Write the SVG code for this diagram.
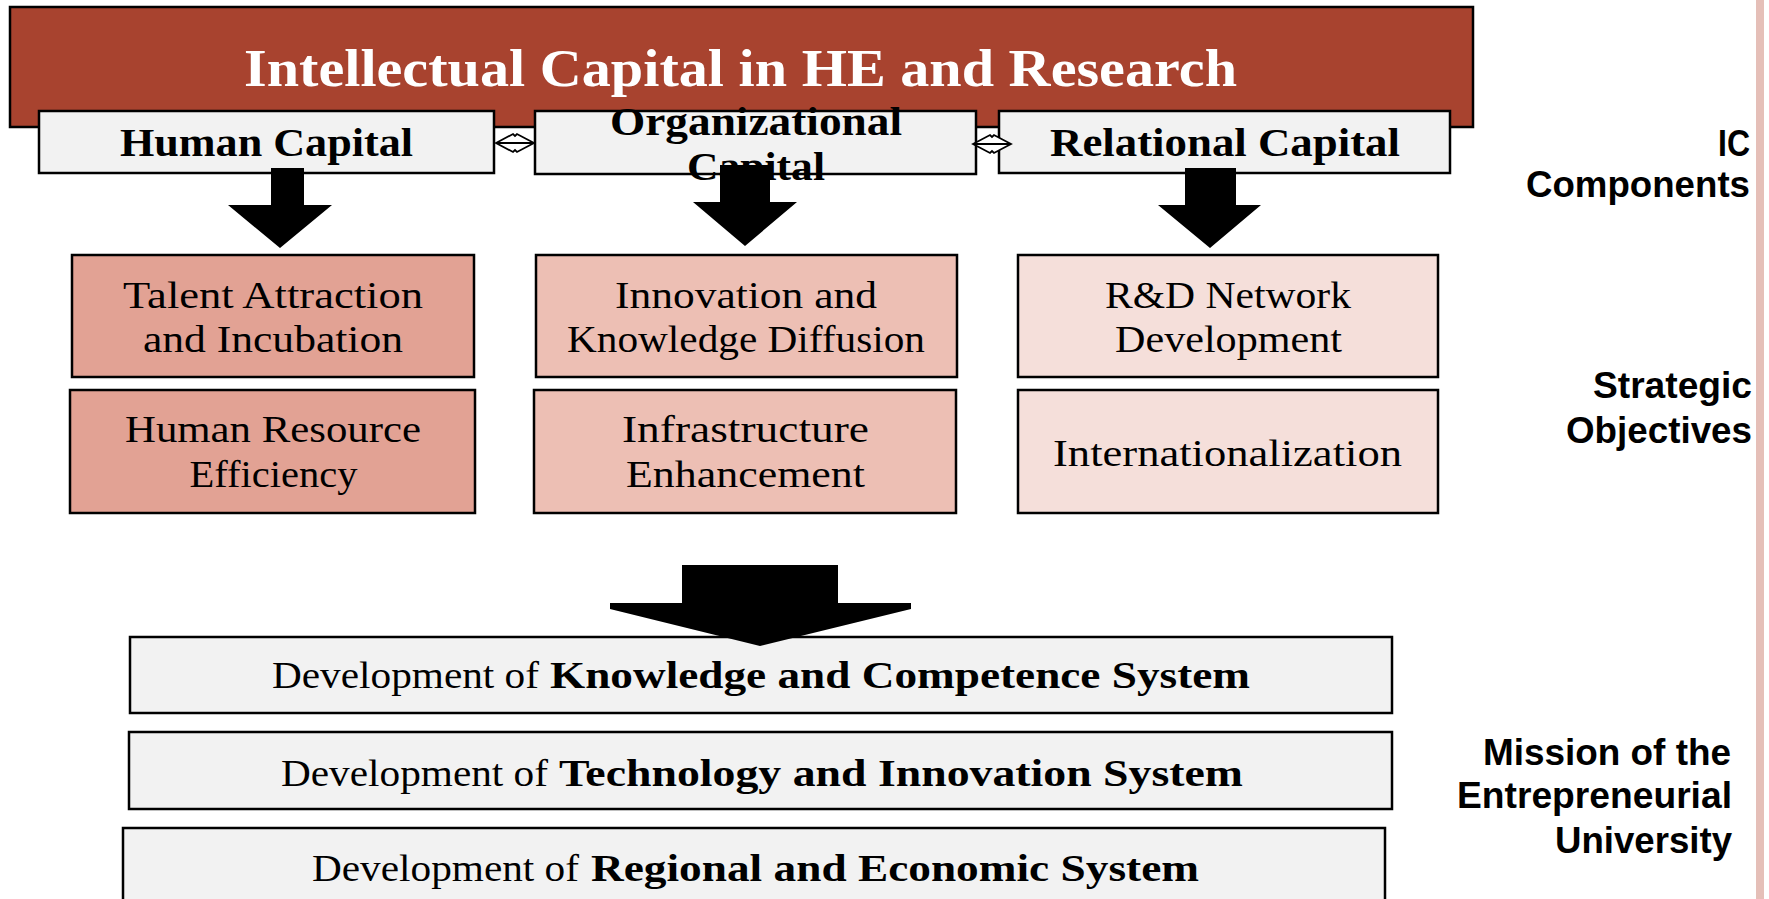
<svg xmlns="http://www.w3.org/2000/svg" width="1769" height="899" viewBox="0 0 1769 899">
  <style>
    .box { stroke: #000; stroke-width: 2.5; }
    .title-box { fill: #A8432F; }
    .cap-box { fill: #F2F2F2; }
    .obj-1 { fill: #E2A294; }
    .obj-2 { fill: #EDBFB4; }
    .obj-3 { fill: #F5DFDA; }
    .mission-box { fill: #F2F2F2; }
    .serif { font-family: "Liberation Serif", "Times New Roman", serif; fill: #000; }
    .title { font-family: "Liberation Serif", "Times New Roman", serif; font-weight: bold; font-size: 53px; fill: #fff; }
    .cap-label { font-weight: bold; font-size: 40px; }
    .obj-label { font-size: 38px; }
    .mission-label { font-size: 37px; }
    .side { font-family: "Liberation Sans", Arial, sans-serif; font-weight: bold; font-size: 37px; fill: #000; }
    .block-arrow { fill: #000; }
    .link-arrow { fill: #fff; stroke: #000; stroke-width: 1.8; stroke-linejoin: miter; }
    .link-line { fill: none; stroke: #000; stroke-width: 1.8; }
  </style>

  <!-- right margin stripe -->
  <rect x="1756" y="0" width="8" height="899" fill="#E5BFB8"/>

  <!-- header -->
  <g id="header">
    <rect class="box title-box" x="10" y="7" width="1463" height="120"/>
    <text class="title" x="244" y="86" textLength="993" lengthAdjust="spacingAndGlyphs">Intellectual Capital in HE and Research</text>
  </g>

  <!-- IC components -->
  <g id="human-capital">
    <rect class="box cap-box" x="39" y="111" width="455" height="62"/>
    <text class="serif cap-label" x="120" y="156" textLength="293" lengthAdjust="spacingAndGlyphs">Human Capital</text>
  </g>
  <g id="organizational-capital">
    <rect class="box cap-box" x="535" y="111" width="441" height="63"/>
    <text class="serif cap-label" x="610" y="135" textLength="292" lengthAdjust="spacingAndGlyphs">Organizational</text>
    <text class="serif cap-label" x="687" y="180" textLength="138" lengthAdjust="spacingAndGlyphs">Capital</text>
  </g>
  <g id="relational-capital">
    <rect class="box cap-box" x="999" y="111" width="451" height="62"/>
    <text class="serif cap-label" x="1050" y="156" textLength="350" lengthAdjust="spacingAndGlyphs">Relational Capital</text>
  </g>

  <!-- strategic objectives -->
  <g id="talent-attraction">
    <rect class="box obj-1" x="72" y="255" width="402" height="122"/>
    <text class="serif obj-label" x="123" y="308" textLength="300" lengthAdjust="spacingAndGlyphs">Talent Attraction</text>
    <text class="serif obj-label" x="143" y="352" textLength="260" lengthAdjust="spacingAndGlyphs">and Incubation</text>
  </g>
  <g id="innovation-diffusion">
    <rect class="box obj-2" x="536" y="255" width="421" height="122"/>
    <text class="serif obj-label" x="615" y="308" textLength="262" lengthAdjust="spacingAndGlyphs">Innovation and</text>
    <text class="serif obj-label" x="567" y="352" textLength="358" lengthAdjust="spacingAndGlyphs">Knowledge Diffusion</text>
  </g>
  <g id="rd-network">
    <rect class="box obj-3" x="1018" y="255" width="420" height="122"/>
    <text class="serif obj-label" x="1105" y="308" textLength="246" lengthAdjust="spacingAndGlyphs">R&amp;D Network</text>
    <text class="serif obj-label" x="1115" y="352" textLength="227" lengthAdjust="spacingAndGlyphs">Development</text>
  </g>
  <g id="human-resource">
    <rect class="box obj-1" x="70" y="390" width="405" height="123"/>
    <text class="serif obj-label" x="125" y="442" textLength="296" lengthAdjust="spacingAndGlyphs">Human Resource</text>
    <text class="serif obj-label" x="189.5" y="487" textLength="168" lengthAdjust="spacingAndGlyphs">Efficiency</text>
  </g>
  <g id="infrastructure">
    <rect class="box obj-2" x="534" y="390" width="422" height="123"/>
    <text class="serif obj-label" x="622" y="442" textLength="247" lengthAdjust="spacingAndGlyphs">Infrastructure</text>
    <text class="serif obj-label" x="626" y="487" textLength="239" lengthAdjust="spacingAndGlyphs">Enhancement</text>
  </g>
  <g id="internationalization">
    <rect class="box obj-3" x="1018" y="390" width="420" height="123"/>
    <text class="serif obj-label" x="1053" y="466" textLength="349" lengthAdjust="spacingAndGlyphs">Internationalization</text>
  </g>

  <!-- mission -->
  <g id="knowledge-system">
    <rect class="box mission-box" x="130" y="637" width="1262" height="76"/>
    <text class="serif mission-label">
      <tspan x="272" y="688" textLength="267" lengthAdjust="spacingAndGlyphs">Development of</tspan>
      <tspan x="550" y="688" font-weight="bold" textLength="700" lengthAdjust="spacingAndGlyphs">Knowledge and Competence System</tspan>
    </text>
  </g>
  <g id="technology-system">
    <rect class="box mission-box" x="129" y="732" width="1263" height="77"/>
    <text class="serif mission-label">
      <tspan x="281" y="786" textLength="267" lengthAdjust="spacingAndGlyphs">Development of</tspan>
      <tspan x="559" y="786" font-weight="bold" textLength="684" lengthAdjust="spacingAndGlyphs">Technology and Innovation System</tspan>
    </text>
  </g>
  <g id="regional-system">
    <rect class="box mission-box" x="123" y="828" width="1262" height="90"/>
    <text class="serif mission-label">
      <tspan x="312" y="881" textLength="267" lengthAdjust="spacingAndGlyphs">Development of</tspan>
      <tspan x="591" y="881" font-weight="bold" textLength="608" lengthAdjust="spacingAndGlyphs">Regional and Economic System</tspan>
    </text>
  </g>

  <!-- connectors -->
  <g id="connectors">
    <!-- two-way links between the IC components -->
    <path class="link-arrow" d="M496,143 L513,134 L515,136 L517,134 L534,143 L517,152 L515,150 L513,152 Z"/>
    <path class="link-line" d="M496,143 H534"/>
    <path class="link-arrow" d="M973,144 L990,135 L992,137 L994,135 L1011,144 L994,153 L992,151 L990,153 Z"/>
    <path class="link-line" d="M973,144 H1011"/>
    <!-- block arrows -->
    <polygon class="block-arrow" points="271,168 304,168 304,205 332,205 280,248 228,205 271,205"/>
    <polygon class="block-arrow" points="720,165 770,165 770,202 797,202 745,246 693,202 720,202"/>
    <polygon class="block-arrow" points="1185,168 1236,168 1236,205 1261,205 1210,248 1158,205 1185,205"/>
    <polygon class="block-arrow" points="682,565 838,565 838,603 911,603 911,609 760,646 610,609 610,603 682,603"/>
  </g>

  <!-- level labels -->
  <g id="level-labels">
    <text class="side" x="1718" y="156" textLength="32" lengthAdjust="spacingAndGlyphs">IC</text>
    <text class="side" x="1526" y="197" textLength="224" lengthAdjust="spacingAndGlyphs">Components</text>
    <text class="side" x="1593" y="398" textLength="159" lengthAdjust="spacingAndGlyphs">Strategic</text>
    <text class="side" x="1566" y="443" textLength="186" lengthAdjust="spacingAndGlyphs">Objectives</text>
    <text class="side" x="1483" y="765" textLength="248" lengthAdjust="spacingAndGlyphs">Mission of the</text>
    <text class="side" x="1457" y="808" textLength="275" lengthAdjust="spacingAndGlyphs">Entrepreneurial</text>
    <text class="side" x="1555" y="853" textLength="177" lengthAdjust="spacingAndGlyphs">University</text>
  </g>
</svg>
